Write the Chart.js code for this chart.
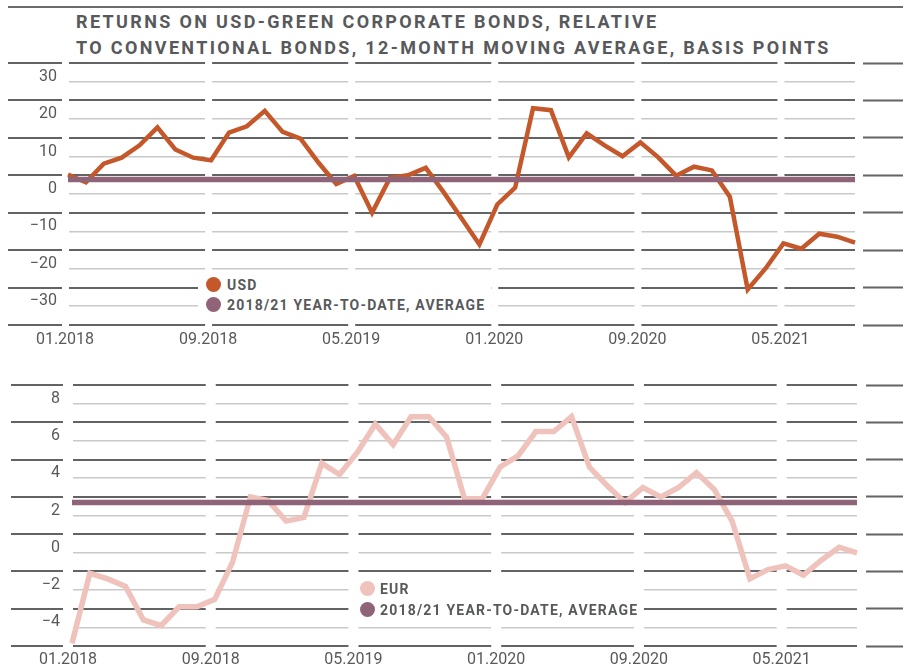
<!DOCTYPE html>
<html lang="en">
<head>
  <meta charset="UTF-8">
  <title>Green corporate bond returns</title>
  <script src="https://cdn.jsdelivr.net/npm/chart.js"></script>
  <style>
    body { margin: 0; background: #fff; font-family: Roboto, "Liberation Sans", sans-serif; }
    #wrap { position: relative; width: 903px; height: 668px; overflow: hidden; }
    .rule { position: absolute; left: 8px; right: 0; top: 6px; height: 2px; background: #6a6b6d; }
    h1 { position: absolute; left: 76px; top: 9px; margin: 0; font-size: 18px; line-height: 26px;
         font-weight: 700; letter-spacing: 2.35px; color: #58595b; white-space: nowrap; }
    canvas { position: absolute; left: 0; }
    .legend { position: absolute; background: #fff; }
    .legend .dot { position: absolute; width: 15px; height: 15px; border-radius: 50%; }
    .legend .txt { position: absolute; font-size: 14px; font-weight: 700; letter-spacing: 1.2px;
                   color: #58595b; line-height: 18px; white-space: nowrap; }
  </style>
</head>
<body>
  <div id="wrap">
    <div class="rule"></div>
    <h1>RETURNS ON USD-GREEN CORPORATE BONDS, RELATIVE<br>TO CONVENTIONAL BONDS, 12-MONTH MOVING AVERAGE, BASIS POINTS</h1>

    <canvas id="usdChart" width="903" height="350" style="top:0"></canvas>
    <canvas id="eurChart" width="903" height="308" style="top:360px"></canvas>

    <!-- legends sit inside the plots and blank the grid under them -->
    <div class="legend" style="left:198px; top:276px; width:293px; height:40px;">
      <div class="dot" style="left:8px; top:1px; background:#c4582b;"></div>
      <div class="txt" style="left:29px; top:0px;">USD</div>
      <div class="dot" style="left:8px; top:21px; background:#8f6479;"></div>
      <div class="txt" style="left:29px; top:20px;">2018/21 YEAR-TO-DATE, AVERAGE</div>
    </div>
    <div class="legend" style="left:352px; top:579px; width:282px; height:40px;">
      <div class="dot" style="left:8px; top:2px; background:#efc3bc;"></div>
      <div class="txt" style="left:28px; top:1px;">EUR</div>
      <div class="dot" style="left:8px; top:23px; background:#8f6479;"></div>
      <div class="txt" style="left:28px; top:22px;">2018/21 YEAR-TO-DATE, AVERAGE</div>
    </div>
  </div>

  <script>
    const months = [
      '01.2018', '02.2018', '03.2018', '04.2018', '05.2018', '06.2018', '07.2018', '08.2018', '09.2018',
      '10.2018', '11.2018', '12.2018', '01.2019', '02.2019', '03.2019', '04.2019', '05.2019', '06.2019',
      '07.2019', '08.2019', '09.2019', '10.2019', '11.2019', '12.2019', '01.2020', '02.2020', '03.2020',
      '04.2020', '05.2020', '06.2020', '07.2020', '08.2020', '09.2020', '10.2020', '11.2020', '12.2020',
      '01.2021', '02.2021', '03.2021', '04.2021', '05.2021', '06.2021', '07.2021', '08.2021', '09.2021'
    ];
    const labelMonths = ['01.2018', '09.2018', '05.2019', '01.2020', '09.2020', '05.2021'];

    const usdReturns = [
      5.2, 3.1, 8.1, 9.7, 13.0, 17.8, 11.9, 9.7, 9.0, 16.4, 18.1, 22.2, 16.6, 14.8, 8.4,
      2.7, 4.8, -5.0, 4.3, 5.0, 7.0, 0.5, -6.5, -13.5, -2.8, 1.7, 22.9, 22.4, 9.8, 16.2,
      13.0, 10.1, 13.8, 9.8, 4.9, 7.3, 6.3, -0.7, -25.5, -19.9, -13.2, -14.6, -10.6, -11.4, -13.0
    ];
    const eurReturns = [
      -4.85, -1.1, -1.4, -1.8, -3.6, -3.9, -2.9, -2.9, -2.5, -0.5, 3.0, 2.8, 1.7, 1.9, 4.8,
      4.2, 5.4, 6.9, 5.8, 7.3, 7.3, 6.2, 2.9, 2.9, 4.6, 5.2, 6.5, 6.5, 7.3, 4.6,
      3.6, 2.7, 3.5, 3.0, 3.5, 4.3, 3.4, 1.7, -1.4, -0.9, -0.7, -1.2, -0.4, 0.3, 0.0
    ];
    const usdAverage = 3.9;
    const eurAverage = 2.7;

    // labelled ticks (light lines); the dark lines sit half a step between them
    const usdTicks = [-30, -20, -10, 0, 10, 20, 30];
    const eurTicks = [-4, -2, 0, 2, 4, 6, 8];
    const usdAxis = { min: -35, max: 35, step: 5, major: usdTicks };
    const eurAxis = { min: -5, max: 9, step: 1, major: eurTicks };

    const DARK = '#626365';
    const LIGHT = '#c9c9c9';
    const TEXT = '#58595b';
    const FONT = 'Roboto, "Liberation Sans", sans-serif';

    // white vertical breaks through the grid at the labelled months
    const gapPlugin = {
      id: 'gaps',
      beforeDatasetsDraw(chart, args, opts) {
        const { ctx, chartArea, scales } = chart;
        const top = scales.y.getPixelForValue(scales.y.max) - 3;
        const bottom = scales.y.getPixelForValue(scales.y.min) + 3;
        ctx.save();
        ctx.fillStyle = '#fff';
        labelMonths.forEach(m => {
          const c = scales.x.getPixelForValue(months.indexOf(m)) - opts.shift;
          ctx.fillRect(c - opts.width / 2, top, opts.width, bottom - top);
        });
        const e = chartArea.right + opts.endShift;
        ctx.fillRect(e - opts.endWidth / 2, top, opts.endWidth, bottom - top);
        ctx.restore();
      }
    };

    function makeChart(id, series, average, color, width, axis, lay) {
      const isMajor = v => axis.major.some(m => Math.abs(m - v) < 1e-6);
      const fmt = v => (v < 0 ? '\u2212' + Math.abs(v) : String(v));

      return new Chart(document.getElementById(id), {
        type: 'line',
        data: {
          labels: months,
          datasets: [
            {
              label: '2018/21 year-to-date, average',
              data: [{ x: months[0], y: average }, { x: months[months.length - 1], y: average }],
              borderColor: '#8f6479',
              borderWidth: 5.5,
              pointRadius: 0,
              order: 0
            },
            {
              label: id === 'usdChart' ? 'USD' : 'EUR',
              data: series,
              borderColor: color,
              borderWidth: width,
              borderJoinStyle: 'miter',
              tension: 0,
              pointRadius: 0,
              order: 1
            }
          ]
        },
        options: {
          responsive: false,
          animation: false,
          layout: { padding: lay.padding },
          plugins: {
            legend: { display: false },
            tooltip: { enabled: false },
            gaps: lay.gaps
          },
          scales: {
            x: {
              type: 'category',
              offset: false,
              grid: { display: false, drawTicks: false },
              border: { display: false },
              ticks: {
                autoSkip: false,
                maxRotation: 0,
                labelOffset: lay.xLabelOffset,
                padding: lay.xPad,
                color: TEXT,
                font: { family: FONT, size: 16 },
                callback: (v, i) => (labelMonths.includes(months[i]) ? months[i] : null)
              },
              afterFit: s => { s.height = lay.xHeight; }
            },
            // dark lines, their left extension and the tick labels
            y: {
              min: axis.min,
              max: axis.max,
              border: { display: false },
              ticks: {
                stepSize: axis.step,
                autoSkip: false,
                maxTicksLimit: 100,
                padding: -49,
                labelOffset: -5,
                color: TEXT,
                font: { family: FONT, size: 16 },
                callback: v => (isMajor(v) ? fmt(v) : '')
              },
              grid: {
                color: c => (isMajor(c.tick.value) ? 'rgba(0,0,0,0)' : DARK),
                lineWidth: 2,
                tickLength: lay.leftTick,
                tickColor: c => (isMajor(c.tick.value) ? 'rgba(0,0,0,0)' : DARK),
                tickWidth: 2
              },
              afterFit: s => { s.width = lay.leftTick; }
            },
            // light lines on the labelled values
            yLight: {
              position: 'right',
              min: axis.min,
              max: axis.max,
              border: { display: false },
              ticks: { display: false, autoSkip: false },
              afterBuildTicks: s => { s.ticks = axis.major.map(v => ({ value: v })); },
              grid: { color: LIGHT, lineWidth: 1.6, drawTicks: false },
              afterFit: s => { s.width = 0; }
            },
            // dark line extension on the right
            y2: {
              position: 'right',
              min: axis.min,
              max: axis.max,
              border: { display: false },
              ticks: { display: false, autoSkip: false, maxTicksLimit: 100, stepSize: axis.step },
              grid: {
                drawOnChartArea: false,
                tickLength: lay.rightTick,
                tickColor: c => (isMajor(c.tick.value) ? 'rgba(0,0,0,0)' : DARK),
                tickWidth: 2
              },
              afterFit: s => { s.width = lay.rightTick; }
            }
          }
        },
        plugins: [gapPlugin]
      });
    }

    makeChart('usdChart', usdReturns, usdAverage, '#c4582b', 4.5, usdAxis, {
      padding: { top: 63, left: 8, right: 0, bottom: 0 },
      leftTick: 60, rightTick: 48, xHeight: 25, xPad: 5, xLabelOffset: -3,
      gaps: { width: 7, shift: 2.5, endShift: 4, endWidth: 8 }
    });

    makeChart('eurChart', eurReturns, eurAverage, '#efc3bc', 5.5, eurAxis, {
      padding: { top: 25, left: 11, right: 0, bottom: 0 },
      leftTick: 61, rightTick: 46, xHeight: 22, xPad: 4, xLabelOffset: -4,
      gaps: { width: 10, shift: 4, endShift: 4.5, endWidth: 9 }
    });
  </script>
</body>
</html>
